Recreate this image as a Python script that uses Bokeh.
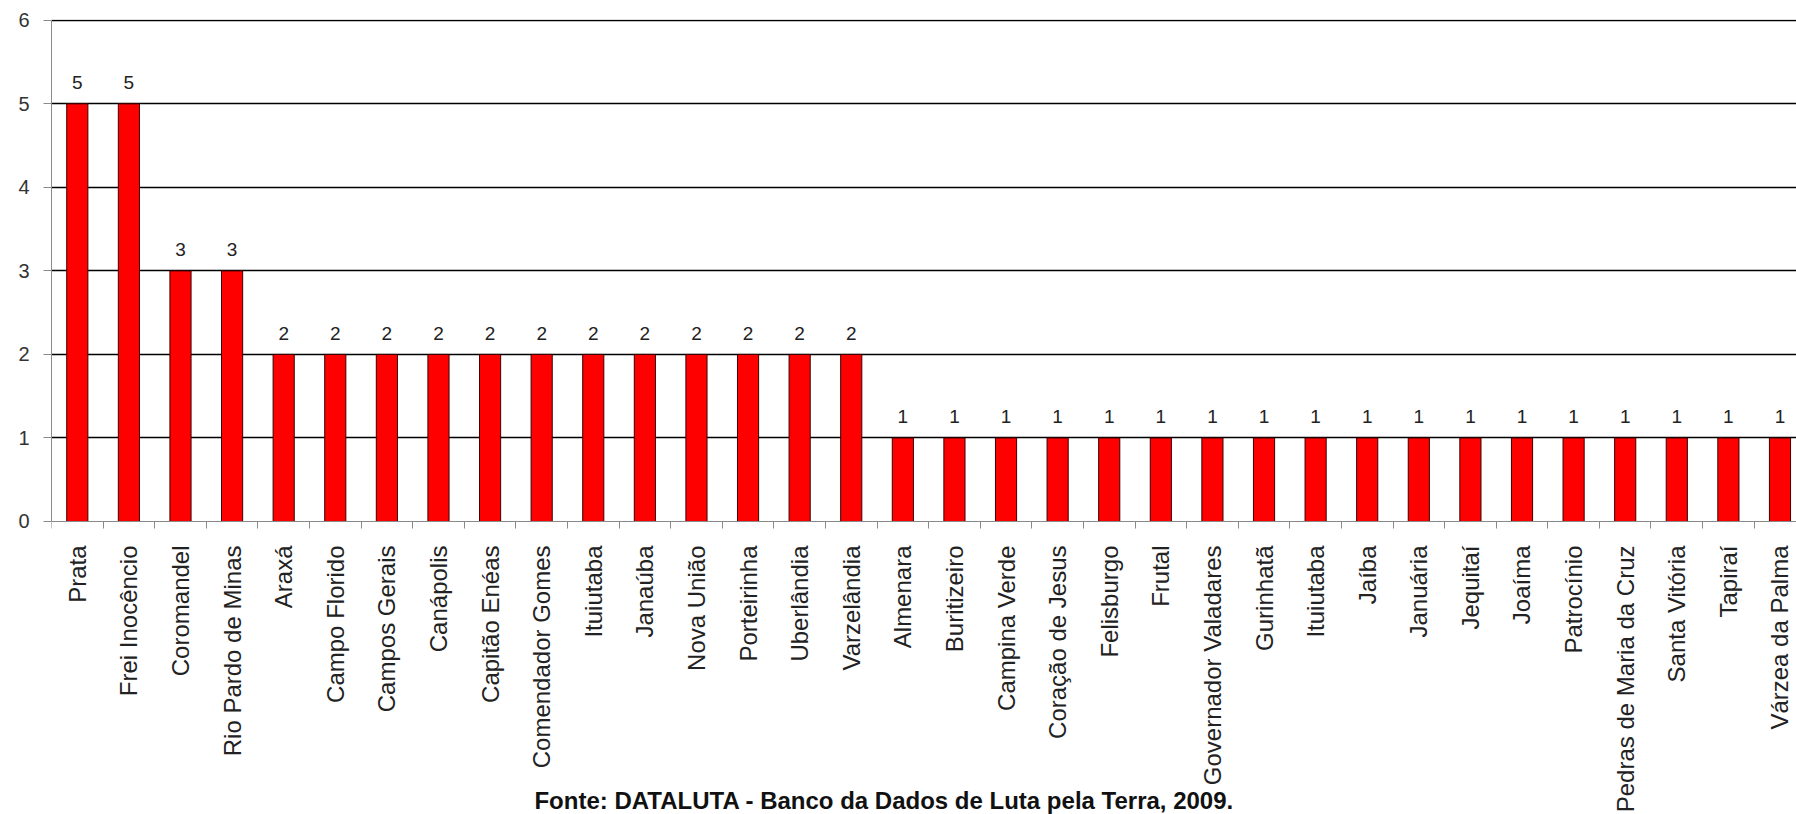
import math
from bokeh.plotting import figure
from bokeh.models import FixedTicker, Range1d, ColumnDataSource
from bokeh.core.properties import value
from bokeh.embed import file_html
from bokeh.resources import INLINE

municipios = [
    "Prata", "Frei Inocêncio", "Coromandel", "Rio Pardo de Minas", "Araxá",
    "Campo Florido", "Campos Gerais", "Canápolis", "Capitão Enéas", "Comendador Gomes",
    "Ituiutaba", "Janaúba", "Nova União", "Porteirinha", "Uberlândia",
    "Varzelândia", "Almenara", "Buritizeiro", "Campina Verde", "Coração de Jesus",
    "Felisburgo", "Frutal", "Governador Valadares", "Gurinhatã", "Ituiutaba",
    "Jaíba", "Januária", "Jequitaí", "Joaíma", "Patrocínio",
    "Pedras de Maria da Cruz", "Santa Vitória", "Tapiraí", "Várzea da Palma",
]
ocupacoes = [5, 5, 3, 3, 2, 2, 2, 2, 2, 2, 2, 2, 2, 2, 2, 2,
             1, 1, 1, 1, 1, 1, 1, 1, 1, 1, 1, 1, 1, 1, 1, 1, 1, 1]
y_ticks = [0, 1, 2, 3, 4, 5, 6]
fonte = "Fonte: DATALUTA - Banco da Dados de Luta pela Terra, 2009."

n = len(municipios)
centers = [i + 0.5 for i in range(n)]

src = ColumnDataSource(dict(x=centers, top=ocupacoes, lbl=[str(v) for v in ocupacoes]))

p = figure(width=1796, height=814, output_backend="svg", toolbar_location=None,
           x_range=Range1d(0, 33.82), y_range=Range1d(-3.508, 6.01),
           min_border_left=51, min_border_right=0, min_border_top=19, min_border_bottom=0)
p.background_fill_color = "white"
p.border_fill_color = "white"
p.outline_line_color = None

# grid
p.xgrid.grid_line_color = None
p.ygrid.ticker = FixedTicker(ticks=y_ticks[1:])
p.ygrid.grid_line_color = "#000000"
p.ygrid.grid_line_width = 1.4

p.vbar(x="x", top="top", bottom=0, width=0.41, source=src,
       fill_color="#FF0000", line_color="#3a0000", line_width=1)

p.text(x="x", y="top", text="lbl", source=src, y_offset=-21,
       text_align="center", text_baseline="middle",
       text_font=value("Liberation Sans"), text_font_size="19px", text_color="#222222")

# y axis
p.yaxis.ticker = FixedTicker(ticks=y_ticks)
p.yaxis.bounds = (0, 6)
p.yaxis.axis_line_color = "#8a8a8a"
p.yaxis.major_tick_line_color = "#8a8a8a"
p.yaxis.major_tick_out = 8
p.yaxis.major_tick_in = 0
p.yaxis.minor_tick_line_color = None
p.yaxis.major_label_standoff = 14
p.yaxis.major_label_text_font = "Liberation Sans"
p.yaxis.major_label_text_font_size = "20px"
p.yaxis.major_label_text_color = "#333333"

# x axis, drawn at y = 0
p.xaxis.fixed_location = 0
p.xaxis.ticker = FixedTicker(ticks=centers, minor_ticks=list(range(n + 1)))
p.xaxis.major_label_overrides = {c: m for c, m in zip(centers, municipios)}
p.xaxis.major_label_orientation = math.pi / 2
p.xaxis.axis_line_color = "#8a8a8a"
p.xaxis.major_tick_line_color = None
p.xaxis.major_tick_out = 0
p.xaxis.major_tick_in = 0
p.xaxis.minor_tick_line_color = "#8a8a8a"
p.xaxis.minor_tick_out = 7
p.xaxis.minor_tick_in = 0
p.xaxis.major_label_standoff = 17
p.xaxis.major_label_text_font = "Liberation Sans"
p.xaxis.major_label_text_font_size = "24px"
p.xaxis.major_label_text_color = "#222222"

# source note
p.text(x=[16.14], y=[-3.34], text=[fonte], text_align="center", text_baseline="middle",
       text_font=value("Liberation Sans"), text_font_size="24px", text_font_style="bold",
       text_color="#111111")

open("out.html", "w").write(file_html(p, INLINE))
